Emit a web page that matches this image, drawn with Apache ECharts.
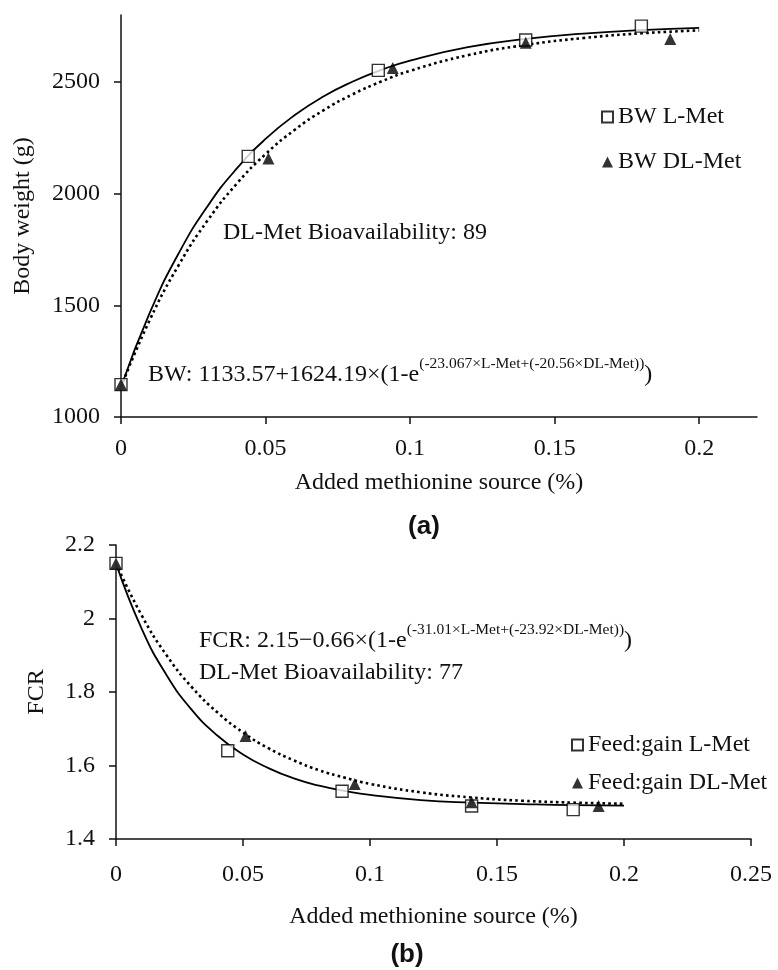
<!DOCTYPE html>
<html>
<head>
<meta charset="utf-8">
<script src="https://cdn.jsdelivr.net/npm/echarts@6/dist/echarts.min.js"></script>
<style>
  html, body { margin: 0; padding: 0; background: #fff; }
  #main { width: 778px; height: 970px; }
</style>
</head>
<body>
<div id="main"></div>
<script>
// measured points (added methionine %, response)
var doseL = [0, 0.044, 0.089, 0.14, 0.18];
var doseDL = [0, 0.051, 0.094, 0.14, 0.19];
var bwL = [1145, 2167, 2552, 2688, 2750];
var bwDL = [1145, 2158, 2563, 2676, 2692];
var fcrL = [2.15, 1.64, 1.53, 1.49, 1.48];
var fcrDL = [2.15, 1.68, 1.55, 1.50, 1.49];

// fitted curves
var curveX = [0, 0.01, 0.02, 0.03, 0.04, 0.05, 0.06, 0.07, 0.08, 0.09, 0.1, 0.12, 0.14, 0.16, 0.18, 0.2];
var bwFitL = [1134, 1468, 1734, 1945, 2112, 2245, 2351, 2435, 2501, 2554, 2596, 2656, 2693, 2717, 2732, 2742];
var bwFitDL = [1134, 1436, 1681, 1881, 2044, 2177, 2285, 2373, 2444, 2502, 2550, 2620, 2666, 2697, 2718, 2731];
var fcrFitL = [2.15, 1.974, 1.845, 1.75, 1.681, 1.63, 1.593, 1.565, 1.545, 1.531, 1.52, 1.506, 1.499, 1.495, 1.492, 1.491];
var fcrFitDL = [2.15, 2.01, 1.899, 1.812, 1.744, 1.69, 1.647, 1.614, 1.587, 1.567, 1.55, 1.527, 1.513, 1.504, 1.499, 1.496];

// tick labels
var xTicksA = [0, 0.05, 0.1, 0.15, 0.2];
var xTicksB = [0, 0.05, 0.1, 0.15, 0.2, 0.25];
var yTicksA = [1000, 1500, 2000, 2500];
var yTicksB = [1.4, 1.6, 1.8, 2, 2.2];

var serif = 'Liberation Serif';
var ink = '#111';

function pairs(xs, ys) {
  return xs.map(function (x, i) { return [x, ys[i]]; });
}

function xAxisOf(grid, max, ticks, labelMargin, nameGap) {
  return {
    type: 'value', gridIndex: grid, min: 0, max: max, interval: 0.05,
    name: 'Added methionine source (%)', nameLocation: 'middle', nameGap: nameGap,
    nameTextStyle: { fontFamily: serif, fontSize: 24, color: ink },
    axisLine: { lineStyle: { color: ink, width: 1.5 } },
    axisTick: { length: 7, lineStyle: { color: ink, width: 1.5 }, customValues: ticks },
    axisLabel: { fontFamily: serif, fontSize: 24, color: ink, margin: labelMargin,
      customValues: ticks, formatter: function (v) { return String(v); } },
    splitLine: { show: false }
  };
}

function yAxisOf(grid, min, max, interval, ticks, name, nameGap) {
  return {
    type: 'value', gridIndex: grid, min: min, max: max, interval: interval,
    name: name, nameLocation: 'middle', nameGap: nameGap,
    nameTextStyle: { fontFamily: serif, fontSize: 24, color: ink },
    axisLine: { show: true, lineStyle: { color: ink, width: 1.5 } },
    axisTick: { show: true, length: 7, lineStyle: { color: ink, width: 1.5 }, customValues: ticks },
    axisLabel: { fontFamily: serif, fontSize: 24, color: ink, margin: 21,
      customValues: ticks, formatter: function (v) { return String(v); } },
    splitLine: { show: false }
  };
}

function fitLine(name, grid, ys, dotted) {
  return {
    name: name, type: 'line', xAxisIndex: grid, yAxisIndex: grid,
    data: pairs(curveX, ys), smooth: true, showSymbol: false, silent: true,
    lineStyle: dotted ? { color: '#000', width: 2.6, type: [2.6, 3.2] } : { color: '#000', width: 1.8 },
    z: 2
  };
}

function points(name, grid, xs, ys, hollow) {
  return {
    name: name, type: 'scatter', xAxisIndex: grid, yAxisIndex: grid,
    data: pairs(xs, ys),
    symbol: hollow ? 'rect' : 'triangle', symbolSize: 12,
    itemStyle: hollow ? { color: '#fff', borderColor: '#000', borderWidth: 1.4 } : { color: '#000' },
    z: hollow ? 3 : 4
  };
}

function legendOf(names, left, top, gap) {
  return {
    data: names, orient: 'vertical', left: left, top: top, itemGap: gap, padding: 0,
    itemWidth: 11, itemHeight: 11, selectedMode: false,
    textStyle: { fontFamily: serif, fontSize: 24, color: ink }
  };
}

function formula(x, y, head, sup) {
  return {
    type: 'text', x: x, y: y, silent: true,
    style: {
      text: '{m|' + head + '}{s|' + sup + '}{m|)}',
      verticalAlign: 'middle', align: 'left',
      rich: {
        m: { fontFamily: serif, fontSize: 24, lineHeight: 38, fill: ink },
        s: { fontFamily: serif, fontSize: 15.5, lineHeight: 16, verticalAlign: 'top', fill: ink }
      }
    }
  };
}

function note(x, y, str, bold) {
  return {
    type: 'text', x: x, y: y, silent: true,
    style: {
      text: str, fill: ink, verticalAlign: 'middle', align: bold ? 'center' : 'left',
      font: bold ? 'bold 26px "Liberation Sans"' : '24px "' + serif + '"'
    }
  };
}

var myChart = echarts.init(document.getElementById('main'));
myChart.setOption({
  animation: false,
  backgroundColor: '#fff',
  grid: [
    { left: 121, right: 21, top: 15, bottom: 553 },
    { left: 116, right: 27, top: 545, bottom: 131 }
  ],
  xAxis: [
    xAxisOf(0, 0.22, xTicksA, 20, 54),
    xAxisOf(1, 0.25, xTicksB, 24, 66)
  ],
  yAxis: [
    yAxisOf(0, 1000, 2800, 500, yTicksA, 'Body weight (g)', 86),
    yAxisOf(1, 1.4, 2.2, 0.2, yTicksB, 'FCR', 67)
  ],
  legend: [
    legendOf(['BW L-Met', 'BW DL-Met'], 601, 105, 21),
    legendOf(['Feed:gain L-Met', 'Feed:gain DL-Met'], 571, 733, 14)
  ],
  series: [
    fitLine('BW fit L-Met', 0, bwFitL, false),
    fitLine('BW fit DL-Met', 0, bwFitDL, true),
    points('BW L-Met', 0, doseL, bwL, true),
    points('BW DL-Met', 0, doseDL, bwDL, false),
    fitLine('FCR fit L-Met', 1, fcrFitL, false),
    fitLine('FCR fit DL-Met', 1, fcrFitDL, true),
    points('Feed:gain L-Met', 1, doseL, fcrL, true),
    points('Feed:gain DL-Met', 1, doseDL, fcrDL, false)
  ],
  graphic: [
    note(223, 233, 'DL-Met Bioavailability: 89'),
    formula(148, 375, 'BW: 1133.57+1624.19×(1-e', '(-23.067×L-Met+(-20.56×DL-Met))'),
    note(424, 527, '(a)', true),
    formula(199, 641, 'FCR: 2.15−0.66×(1-e', '(-31.01×L-Met+(-23.92×DL-Met))'),
    note(199, 673, 'DL-Met Bioavailability: 77'),
    note(407, 955, '(b)', true)
  ]
});
</script>
</body>
</html>
